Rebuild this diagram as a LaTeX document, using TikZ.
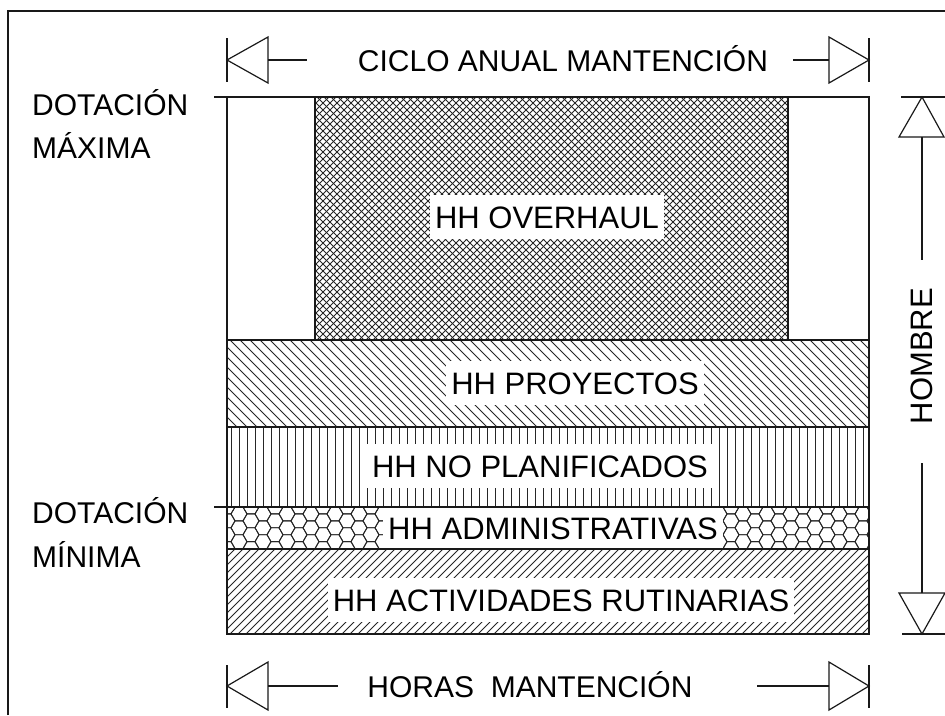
\documentclass[tikz,border=0pt]{standalone}
\usepackage{fontspec}
\setmainfont{Liberation Sans}
\begin{document}
\begin{tikzpicture}[x=1pt,y=-1pt,
  frameline/.style={line width=1.4pt, black!90},
  hatch/.style={line width=0.9pt, black!85},
  lbl/.style={font=\fontsize{31}{36}\selectfont, fill=white, inner xsep=5pt, inner ysep=0pt, text height=22pt, text depth=0pt, minimum height=44pt},
  side/.style={font=\fontsize{30}{36}\selectfont, inner sep=0pt, text height=21.5pt, text depth=0pt, anchor=west},
  dimtext/.style={font=\fontsize{30}{36}\selectfont, inner sep=0pt, text height=21.5pt, text depth=0pt},
  tri/.style={line width=1.2pt, black!90, fill=white, line join=miter}]
\useasboundingbox (0,0) rectangle (945,715);
\fill[white] (0,0) rectangle (945,715);

% outer frame
\draw[frameline] (8,715) -- (8,11) -- (945,11);

% HH OVERHAUL crosshatch
\begin{scope}
  \clip (315,97) rectangle (788,340);
  \foreach \c in {412,419,...,1135} \draw[hatch] (\c-340,340) -- (\c-97,97);
  \foreach \c in {-25,-18,...,698} \draw[hatch] (\c+97,97) -- (\c+340,340);
\end{scope}

% HH PROYECTOS
\begin{scope}
  \clip (227,340) rectangle (869,427);
  \foreach \c in {-200,-190,...,540} \draw[hatch] (\c+340,340) -- (\c+427,427);
\end{scope}

% HH NO PLANIFICADOS
\begin{scope}
  \clip (227,427) rectangle (869,507);
  \foreach \x in {231,239,...,869} \draw[hatch] (\x,427) -- (\x,507);
\end{scope}

% HH ADMINISTRATIVAS honeycomb
\begin{scope}
  \clip (227,507) rectangle (869,549);
  \foreach \i in {0,...,55}{
    \pgfmathsetmacro\cx{227+12*\i}
    \pgfmathsetmacro\off{mod(\i,2)*6.93}
    \foreach \j in {-1,...,3}{
      \pgfmathsetmacro\cy{507+13.86*\j+\off}
      \draw[hatch,shift={(\cx,\cy)}] (8,0) -- (4,6.93) -- (-4,6.93) -- (-8,0) -- (-4,-6.93) -- (4,-6.93) -- cycle;
    }}
\end{scope}

% HH ACTIVIDADES RUTINARIAS
\begin{scope}
  \clip (227,549) rectangle (869,634);
  \foreach \c in {776,784,...,1512} \draw[hatch] (\c-634,634) -- (\c-549,549);
\end{scope}

% labels
\node[lbl] (ov) at (547,217) {HH OVERHAUL};
\node[lbl] (pr) at (575,383) {HH PROYECTOS};
\node[lbl] (np) at (540,466) {HH NO PLANIFICADOS};
\node[lbl, minimum height=42pt] (ad) at (553,528) {HH ADMINISTRATIVAS};
\node[lbl] (ru) at (561,600) {HH ACTIVIDADES RUTINARIAS};

% borders
\draw[frameline] (214,97) -- (869,97) -- (869,634) -- (227,634) -- (227,97);
\draw[frameline] (315,97) -- (315,340);
\draw[frameline] (788,97) -- (788,340);
\draw[frameline] (227,340) -- (869,340);
\draw[frameline] (227,427) -- (869,427);
\draw[frameline] (214,507) -- (869,507);
\draw[frameline] (227,549) -- (869,549);

% side labels
\node[side] (dmax1) at (32,105) {DOTACIÓN};
\node[side] (dmax2) at (32,148) {MÁXIMA};
\node[side] (dmin1) at (32,513) {DOTACIÓN};
\node[side] (dmin2) at (32,557) {MÍNIMA};

% top dimension
\node[dimtext] (ciclo) at (563,61) {CICLO ANUAL MANTENCIÓN};
\coordinate (tL) at (268,60);
\coordinate (tLe) at (307,60);
\coordinate (tR) at (829,60);
\coordinate (tRs) at (793,60);
\draw[frameline] (227,38) -- (227,82);
\draw[tri] (227,60) -- (268,37) -- (268,83) -- cycle;
\draw[frameline] (tL) -- (tLe);
\draw[frameline] (tRs) -- (tR);
\draw[tri] (869,60) -- (829,37) -- (829,83) -- cycle;
\draw[frameline] (869,38) -- (869,82);

% bottom dimension
\node[dimtext] (horas) at (530,687) {HORAS\ \ MANTENCIÓN};
\coordinate (bL) at (268,686);
\coordinate (bLe) at (338,686);
\coordinate (bRs) at (757,686);
\coordinate (bR) at (829,686);
\draw[frameline] (227,665) -- (227,708);
\draw[tri] (227,686) -- (268,662) -- (268,710) -- cycle;
\draw[frameline] (bL) -- (bLe);
\draw[frameline] (bRs) -- (bR);
\draw[tri] (869,686) -- (829,662) -- (829,710) -- cycle;
\draw[frameline] (869,665) -- (869,708);

% right dimension
\node[font=\fontsize{31}{36}\selectfont, inner sep=0pt, text height=22pt, text depth=0pt, rotate=90] (hombre) at (921,356) {HOMBRE};
\coordinate (rT) at (922,137);
\coordinate (rTe) at (922,260);
\coordinate (rBs) at (922,463);
\coordinate (rB) at (922,593);
\draw[frameline] (901,97) -- (945,97);
\draw[tri] (922,97) -- (899,137) -- (944,137) -- cycle;
\draw[frameline] (rT) -- (rTe);
\draw[frameline] (rBs) -- (rB);
\draw[tri] (922,634) -- (899,593) -- (945,593) -- cycle;
\draw[frameline] (902,634) -- (945,634);
\end{tikzpicture}
\end{document}
